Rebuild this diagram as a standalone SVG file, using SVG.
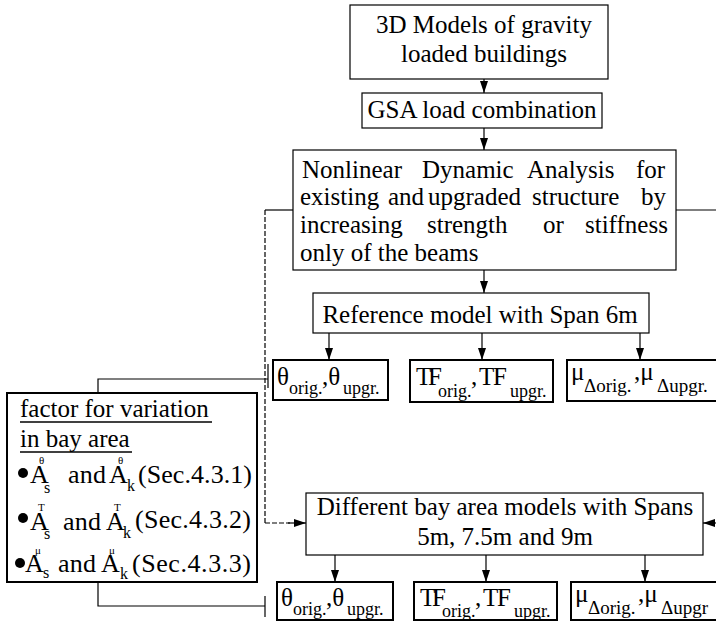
<svg xmlns="http://www.w3.org/2000/svg" width="716" height="627" viewBox="0 0 716 627" font-family="'Liberation Serif', 'Times New Roman', serif">
<defs>
<marker id="ah" markerWidth="12" markerHeight="8" refX="12" refY="4" orient="auto" markerUnits="userSpaceOnUse"><path d="M0,0 L12,4 L0,8 z" fill="#000"/></marker>
</defs>
<style>
text{font-family:"Liberation Serif","Times New Roman",serif;fill:#000}
.t{font-size:25px}
.f{font-size:26px}
.s{font-size:18px}
.m{font-size:19px}
.sp{font-size:11px}
.sb{font-size:16px}
.box{fill:#fff;stroke:#000;stroke-width:1.2}
.bold{fill:#fff;stroke:#000;stroke-width:2}
.c{fill:none;stroke:#000;stroke-width:1.2}
.d{stroke-dasharray:5 2}
.ul{stroke:#000;stroke-width:1.5}
</style>
<rect width="716" height="627" fill="#fff"/>

<g id="connectors">
<line class="c" x1="484" y1="79" x2="484" y2="93" marker-end="url(#ah)"/>
<line class="c" x1="484" y1="128" x2="484" y2="150" marker-end="url(#ah)"/>
<line class="c" x1="484" y1="270" x2="484" y2="293" marker-end="url(#ah)"/>
<line class="c" x1="329" y1="333" x2="329" y2="360" marker-end="url(#ah)"/>
<line class="c" x1="482" y1="333" x2="482" y2="360" marker-end="url(#ah)"/>
<line class="c" x1="640" y1="333" x2="640" y2="360" marker-end="url(#ah)"/>
<line class="c" x1="335" y1="555" x2="335" y2="582" marker-end="url(#ah)"/>
<line class="c" x1="486" y1="555" x2="486" y2="582" marker-end="url(#ah)"/>
<line class="c" x1="645" y1="555" x2="645" y2="582" marker-end="url(#ah)"/>
<polyline class="c" points="293,210 265,210"/>
<line class="c d" x1="265" y1="210" x2="265" y2="523"/>
<polyline class="c d" points="265,523 290,523"/>
<line class="c" x1="288" y1="523" x2="306" y2="523" marker-end="url(#ah)"/>
<line class="c" x1="676" y1="210" x2="716" y2="210"/>
<line class="c" x1="716" y1="523" x2="703" y2="523" marker-end="url(#ah)"/>
<polyline class="c" points="98,393 98,379 268,379" stroke-width="1.6"/>
<line class="c" x1="268" y1="364" x2="268" y2="388" stroke-width="1.6"/>
<polyline class="c" points="98,582 98,606 265,606" stroke-width="1.6"/>
<line class="c" x1="265" y1="596" x2="265" y2="617" stroke-width="1.6"/>
</g>

<g id="models3d">
<rect class="box" x="350" y="5" width="258" height="74"/>
<text class="t" x="484" y="33" text-anchor="middle">3D Models of gravity</text>
<text class="t" x="484" y="62" text-anchor="middle">loaded buildings</text>
</g>

<g id="gsa">
<rect class="box" x="362" y="93" width="240" height="35"/>
<text class="t" x="482" y="118" text-anchor="middle">GSA load combination</text>
</g>

<g id="nda">
<rect class="box" x="293" y="150" width="383" height="120"/>
<text class="t" y="178"><tspan x="302">Nonlinear</tspan><tspan x="422">Dynamic</tspan><tspan x="527">Analysis</tspan><tspan x="636">for</tspan></text>
<text class="t" y="205"><tspan x="300">existing</tspan><tspan x="388">and</tspan><tspan x="428">upgraded</tspan><tspan x="532">structure</tspan><tspan x="641">by</tspan></text>
<text class="t" y="233"><tspan x="300">increasing</tspan><tspan x="427">strength</tspan><tspan x="543">or</tspan><tspan x="585">stiffness</tspan></text>
<text class="t" x="300" y="261">only of the beams</text>
</g>

<g id="reference">
<rect class="box" x="313" y="293" width="336" height="40"/>
<text class="t" x="480" y="323" text-anchor="middle">Reference model with Span 6m</text>
</g>

<g id="ref-theta">
<rect class="bold" x="273" y="360" width="115" height="40"/>
<text class="t" y="385"><tspan x="277">θ</tspan><tspan class="s" x="289" y="394">orig.</tspan><tspan x="322" y="385">,θ</tspan><tspan class="s" x="343" y="394">upgr.</tspan></text>
</g>
<g id="ref-tf">
<rect class="bold" x="410" y="360" width="143" height="42"/>
<text class="t" y="385"><tspan x="416" textLength="26">TF</tspan><tspan class="s" x="438" y="397">orig.</tspan><tspan x="471" y="385">,</tspan><tspan x="479" textLength="28">TF</tspan><tspan class="s" x="510" y="397">upgr.</tspan></text>
</g>
<g id="ref-mu">
<rect class="bold" x="567" y="360" width="160" height="41"/>
<text class="t" y="380"><tspan x="571">μ</tspan><tspan class="m" x="584" y="392">Δorig.</tspan><tspan x="634" y="380">,μ</tspan><tspan class="m" x="657" y="392">Δupgr.</tspan></text>
</g>

<g id="factor">
<rect class="bold" x="7" y="393" width="250" height="189"/>
<text class="t" x="20" y="417">factor for variation</text>
<line class="ul" x1="20" y1="422" x2="212" y2="422"/>
<text class="t" x="20" y="447">in bay area</text>
<line class="ul" x1="20" y1="452" x2="132" y2="452"/>
<circle cx="23" cy="473" r="5"/>
<text class="f" x="30" y="483">A</text>
<text class="sp" x="39" y="464">θ</text>
<text class="sb" x="44" y="493">s</text>
<text class="f" x="68" y="483" textLength="38">and</text>
<text class="f" x="109" y="483">A</text>
<text class="sp" x="118" y="464">θ</text>
<text class="sb" x="127" y="491">k</text>
<text class="f" x="138" y="483" textLength="114">(Sec.4.3.1)</text>
<circle cx="23" cy="518" r="5"/>
<text class="f" x="30" y="530">A</text>
<text class="sp" x="38" y="511">T</text>
<text class="sb" x="44" y="539">s</text>
<text class="f" x="63" y="530" textLength="38">and</text>
<text class="f" x="106" y="530">A</text>
<text class="sp" x="114" y="511">T</text>
<text class="sb" x="123" y="538">k</text>
<text class="f" x="135" y="528" textLength="116">(Sec.4.3.2)</text>
<circle cx="20" cy="563" r="5"/>
<text class="f" x="25" y="572">A</text>
<text class="sp" x="35" y="554">μ</text>
<text class="sb" x="43" y="578">s</text>
<text class="f" x="58" y="572" textLength="38">and</text>
<text class="f" x="101" y="572">A</text>
<text class="sp" x="109" y="554">μ</text>
<text class="sb" x="120" y="579">k</text>
<text class="f" x="132" y="572" textLength="119">(Sec.4.3.3)</text>
</g>

<g id="bayarea">
<rect class="box" x="306" y="493" width="397" height="62"/>
<text class="t" x="505" y="515" text-anchor="middle">Different bay area models with Spans</text>
<text class="t" x="505" y="545" text-anchor="middle">5m, 7.5m and 9m</text>
</g>

<g id="bay-theta">
<rect class="bold" x="277" y="582" width="116" height="38"/>
<text class="t" y="606"><tspan x="281">θ</tspan><tspan class="s" x="293" y="615">orig.</tspan><tspan x="326" y="606">,θ</tspan><tspan class="s" x="347" y="615">upgr.</tspan></text>
</g>
<g id="bay-tf">
<rect class="bold" x="414" y="582" width="143" height="38"/>
<text class="t" y="606"><tspan x="420" textLength="26">TF</tspan><tspan class="s" x="442" y="617">orig.</tspan><tspan x="475" y="606">,</tspan><tspan x="483" textLength="28">TF</tspan><tspan class="s" x="514" y="617">upgr.</tspan></text>
</g>
<g id="bay-mu">
<rect class="bold" x="571" y="582" width="160" height="38"/>
<text class="t" y="602"><tspan x="575">μ</tspan><tspan class="m" x="588" y="614">Δorig.</tspan><tspan x="638" y="602">,μ</tspan><tspan class="m" x="661" y="614">Δupgr</tspan></text>
</g>
</svg>
